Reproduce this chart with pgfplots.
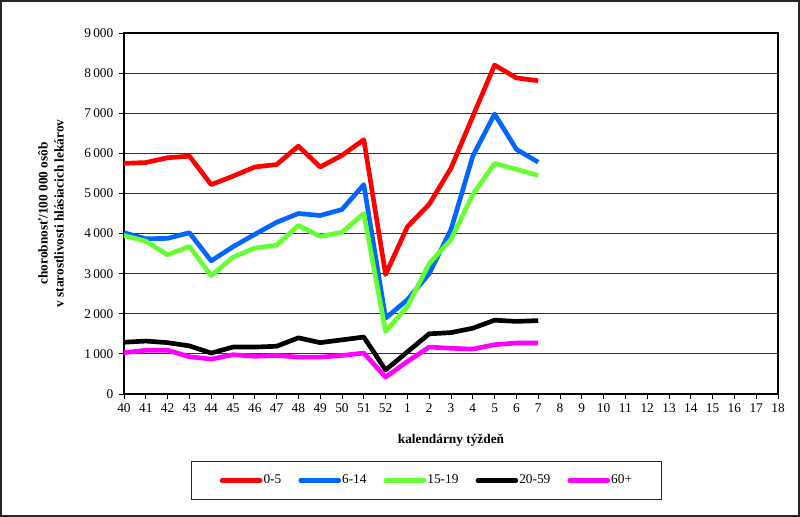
\documentclass[border=0pt]{standalone}
\usepackage{fontspec}
\setmainfont{Liberation Serif}
\usepackage{pgfplots}
\usepackage{pgfplotstable}
\pgfplotsset{compat=1.18}
\definecolor{cRed}{RGB}{255,0,0}
\definecolor{cBlue}{RGB}{0,102,255}
\definecolor{cGreen}{RGB}{102,255,51}
\definecolor{cMag}{RGB}{255,0,255}
\pgfplotstableread{
x a b c d e
0  5750 4020 3950 1290 1030
1  5770 3870 3810 1320 1090
2  5890 3880 3470 1280 1090
3  5930 4020 3680 1200 930
4  5220 3320 2950 1020 870
5  5430 3670 3410 1170 980
6  5660 3980 3640 1170 940
7  5720 4280 3710 1190 960
8  6180 4500 4200 1400 920
9  5660 4450 3930 1280 920
10 5950 4600 4030 1350 960
11 6340 5220 4500 1420 1020
12 2980 1890 1560 600  420
13 4170 2350 2180 1050 810
14 4730 3000 3250 1500 1170
15 5630 4100 3850 1530 1140
16 6920 5930 4970 1640 1120
17 8200 6980 5750 1840 1230
18 7880 6100 5600 1810 1270
19 7810 5780 5450 1830 1270
}\data
\begin{document}
\begin{tikzpicture}
\useasboundingbox (0,0) rectangle (600pt,387.75pt);
\draw[line width=1.5pt, black!85] (0.75pt,0.75pt) rectangle (599.25pt,387pt);
\begin{axis}[
  at={(93pt,92.25pt)}, anchor=south west,
  width=490.5pt, height=270.75pt, scale only axis,
  xmin=0, xmax=30, ymin=0, ymax=9000,
  xtick={0,...,30},
  xticklabels={40,41,42,43,44,45,46,47,48,49,50,51,52,1,2,3,4,5,6,7,8,9,10,11,12,13,14,15,16,17,18},
  ytick={0,1000,...,9000},
  tick align=outside, major tick length=3.5pt,
  tick style={black, line width=0.6pt},
  xtick pos=bottom, ytick pos=left,
  ymajorgrids, grid style={black!80, line width=0.8pt},
  axis line style={black, line width=0.8pt},
  /pgf/number format/assume math mode=true,
  /pgf/number format/1000 sep={\,},
  yticklabel style={font=\normalsize, xshift=-1pt},
  xticklabel style={font=\normalsize},
  xlabel={\bfseries kalendárny týždeň},
  xlabel style={at={(axis description cs:0.5,-0.1274)}, anchor=center},
  ylabel={chorobnosť/100 000 osôb\\v starostlivosti hlásiacich lekárov},
  ylabel style={at={(axis description cs:-0.1116,0.5)}, anchor=center, rotate=0, align=center, font=\bfseries},
  legend columns=5,
  legend style={at={(axis description cs:0.4625,-0.2396)}, anchor=center,
    draw=black!85, line width=0.8pt, inner xsep=21pt, inner ysep=8.5pt,
    font=\normalsize,
    nodes={inner xsep=0.8pt},
    /tikz/every odd column/.append style={column sep=0pt},
    /tikz/every even column/.append style={column sep=12pt}},
  legend image code/.code={\draw[#1, line cap=round] (0pt,0pt) -- (28.5pt,0pt);},
  every axis plot/.append style={line width=3.5pt, line join=round, no markers},
]
\addplot[cRed] table[x=x,y=a]{\data};
\addlegendentry{0-5}
\addplot[cBlue] table[x=x,y=b]{\data};
\addlegendentry{6-14}
\addplot[cGreen] table[x=x,y=c]{\data};
\addlegendentry{15-19}
\addplot[black] table[x=x,y=d]{\data};
\addlegendentry{20-59}
\addplot[cMag] table[x=x,y=e]{\data};
\addlegendentry{60+}
\end{axis}
\end{tikzpicture}
\end{document}
